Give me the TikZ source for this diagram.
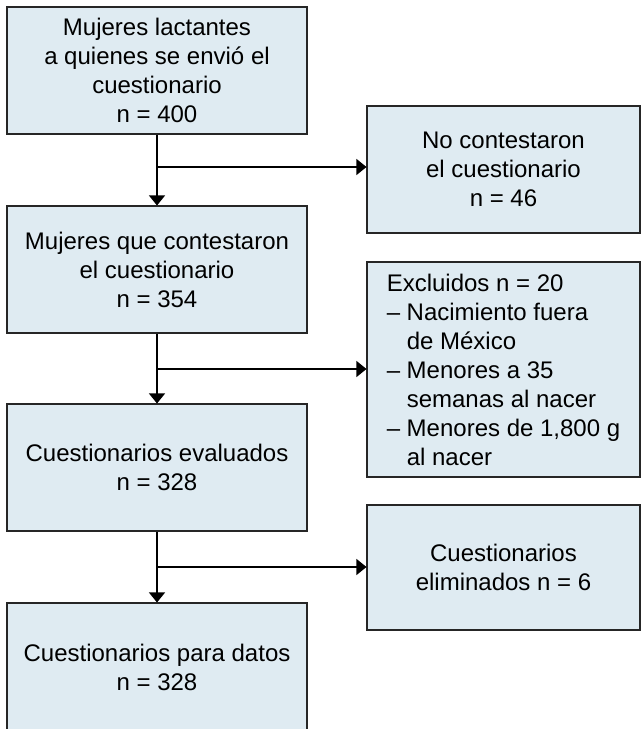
\documentclass[tikz,border=0pt]{standalone}
\usepackage{fontspec}
\setmainfont{Liberation Sans}
\usetikzlibrary{arrows.meta}
\usetikzlibrary{positioning}
\definecolor{BoxBlue}{HTML}{DFEBF2}
\definecolor{EdgeGray}{HTML}{262626}

\begin{document}
\begin{tikzpicture}[x=0.75pt, y=-0.75pt,
  every node/.style={font=\fontsize{18}{21.75}\selectfont},
  box/.style={draw=EdgeGray, fill=BoxBlue, line width=0.8pt, inner sep=0pt,
    align=center, minimum width=225pt, minimum height=95.25pt},
  sidebox/.style={box, minimum width=204.75pt},
  flow/.style={line width=0.8pt, -{Triangle[width=12pt,length=7.5pt]}}]

  \useasboundingbox (0,0) rectangle (641,729);

  % main column
  \node[box] (lactantes) at (157,70.5) {Mujeres lactantes\\a quienes se envió el\\cuestionario\\n = 400};
  \node[box] (contest) at (157,269.5) {Mujeres que contestaron\\el cuestionario\\n = 354};
  \node[box] (evaluados) at (157,467.5) {Cuestionarios evaluados\\n = 328};
  \node[box, minimum height=96pt] (datos) at (157,667) {Cuestionarios para datos\\n = 328};

  % side boxes
  \node[sidebox] (nocontest) at (503.5,169.5) {No contestaron\\el cuestionario\\n = 46};
  \node[sidebox, minimum height=161.25pt, align=left] (excluidos) at (503.5,369.5)
    {Excluidos n = 20\\– Nacimiento fuera\\\hphantom{– }de México\\– Menores a 35\\\hphantom{– }semanas al nacer\\– Menores de 1,800 g\\\hphantom{– }al nacer};
  \node[sidebox, minimum height=93.75pt] (eliminados) at (503.5,567.5) {Cuestionarios\\eliminados n = 6};

  \coordinate (bone)   at (157,167);
  \coordinate (btwo)   at (157,369);
  \coordinate (bthree) at (157,567);

  \draw[flow] (lactantes) -- (contest);
  \draw[flow] (contest) -- (evaluados);
  \draw[flow] (evaluados) -- (datos);

  \draw[flow] (bone) -- (bone -| nocontest.west);
  \draw[flow] (btwo) -- (btwo -| excluidos.west);
  \draw[flow] (bthree) -- (bthree -| eliminados.west);
\end{tikzpicture}
\end{document}
